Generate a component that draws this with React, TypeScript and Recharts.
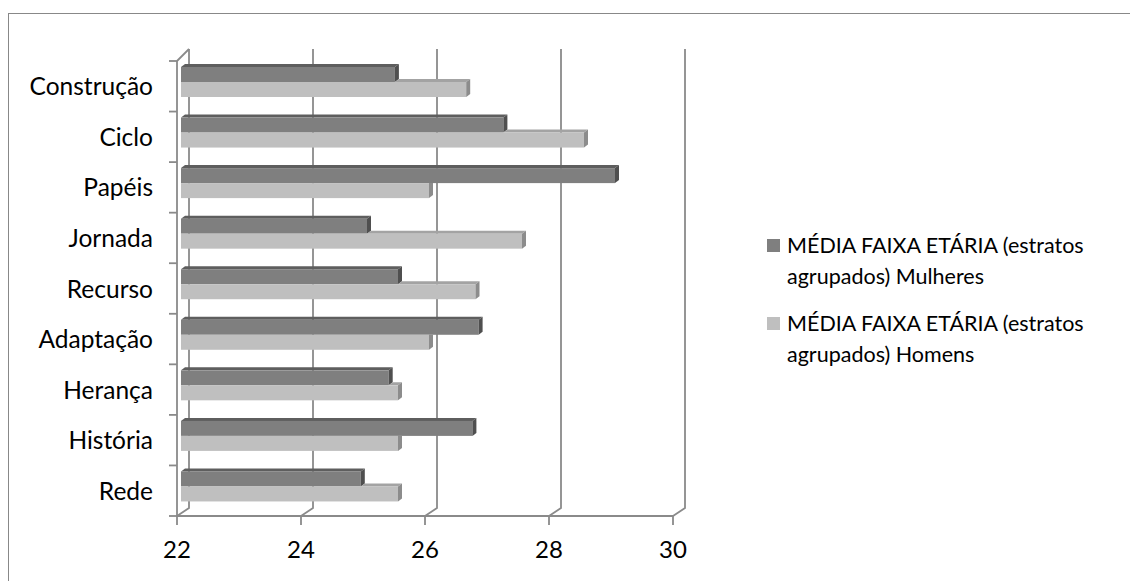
import { BarChart, Bar, XAxis, YAxis, CartesianGrid, Legend } from "recharts";

const categories = ["Construção", "Ciclo", "Papéis", "Jornada", "Recurso", "Adaptação", "Herança", "História", "Rede"];
const mulheres = [25.45, 27.2, 29.0, 25.0, 25.5, 26.8, 25.35, 26.7, 24.9];
const homens = [26.6, 28.5, 26.0, 27.5, 26.75, 26.0, 25.5, 25.5, 25.5];
const xTicks = [22, 24, 26, 28, 30];
const seriesNames = [
  "MÉDIA FAIXA ETÁRIA (estratos agrupados) Mulheres",
  "MÉDIA FAIXA ETÁRIA (estratos agrupados) Homens",
];

const data = categories.map((name, i) => ({ name, mulheres: mulheres[i], homens: homens[i] }));

const FONT = "Lato, 'Open Sans', sans-serif";
const GRID = "#8a8a8a";
const PLOT_TOP = 61;
const PLOT_BOTTOM = 516;
const BAND = (PLOT_BOTTOM - PLOT_TOP) / categories.length;
// 3d look: back wall offset, bar offset, bevel depth
const BACK_DX = 12;
const BAR_DX = 4;
const BAR_DY = -4;
const BEV_X = 4;
const BEV_Y = 3;

function DarkBar(props: any) {
  const { x, y, width, height } = props;
  if (width <= 0) return null;
  const bx = x + BAR_DX, by = y + BAR_DY, xe = bx + width;
  return (
    <g>
      <polygon points={`${bx},${by} ${bx + BEV_X},${by - BEV_Y} ${xe + BEV_X},${by - BEV_Y} ${xe},${by}`} fill="#5e5e5e" />
      <rect x={bx} y={by} width={width} height={height} fill="#7f7f7f" />
      <polygon points={`${xe},${by} ${xe + BEV_X},${by - BEV_Y} ${xe + BEV_X},${by + height - BEV_Y} ${xe},${by + height}`} fill="#4f4f4f" />
    </g>
  );
}

function LightBar(props: any) {
  const { x, y, width, height, payload } = props;
  if (width <= 0) return null;
  const bx = x + BAR_DX, by = y + BAR_DY, xe = bx + width;
  const perUnit = width / (payload.homens - 22);
  const darkEnd = bx + (payload.mulheres - 22) * perUnit;
  const showTop = xe > darkEnd;
  return (
    <g>
      {showTop && (
        <polygon points={`${darkEnd},${by} ${darkEnd + BEV_X},${by - BEV_Y} ${xe + BEV_X},${by - BEV_Y} ${xe},${by}`} fill="#a3a3a3" />
      )}
      <rect x={bx} y={by} width={width} height={height} fill="#bfbfbf" />
      <polygon
        points={showTop
          ? `${xe},${by} ${xe + BEV_X},${by - BEV_Y} ${xe + BEV_X},${by + height - BEV_Y} ${xe},${by + height}`
          : `${xe},${by} ${xe + BEV_X},${by} ${xe + BEV_X},${by + height - BEV_Y} ${xe},${by + height}`}
        fill="#8c8c8c"
      />
    </g>
  );
}

function GridLine(props: any) {
  const { x1, index } = props;
  const top = PLOT_TOP - 12;
  const bot = PLOT_BOTTOM - 8;
  return (
    <g key={`g-${index}`}>
      <polyline points={`${x1 + BACK_DX},${top} ${x1 + BACK_DX},${bot} ${x1},${PLOT_BOTTOM}`} fill="none" stroke={GRID} strokeWidth={1.8} />
      {index === 0 && (
        <line x1={x1} y1={PLOT_TOP} x2={x1 + BACK_DX} y2={top} stroke={GRID} strokeWidth={1.8} />
      )}
    </g>
  );
}

function CatTick(props: any) {
  const { x, y, payload, index } = props;
  const axisX = x + 24;
  return (
    <g>
      <line x1={axisX - 8} x2={axisX} y1={y - BAND / 2} y2={y - BAND / 2} stroke={GRID} strokeWidth={1.8} />
      {index === categories.length - 1 && (
        <line x1={axisX - 8} x2={axisX} y1={y + BAND / 2} y2={y + BAND / 2} stroke={GRID} strokeWidth={1.8} />
      )}
      <text x={x} y={y + 9} textAnchor="end" fontSize={24.5} fontFamily={FONT} fill="#000">
        {payload.value}
      </text>
    </g>
  );
}

function LegendBox(props: any) {
  const items = [...(props.payload || [])].sort(
    (a: any, b: any) => seriesNames.indexOf(a.value) - seriesNames.indexOf(b.value)
  );
  return (
    <div style={{ fontFamily: FONT, fontSize: 21.5, color: "#000" }}>
      {items.map((p: any, i: number) => (
        <div key={i} style={{ display: "flex", alignItems: "flex-start", marginBottom: 16 }}>
          <div style={{ width: 13, height: 13, background: p.color, marginTop: 9, marginRight: 7, flexShrink: 0 }} />
          <div style={{ width: 320, lineHeight: "31px" }}>{p.value}</div>
        </div>
      ))}
    </div>
  );
}

export default function App() {
  return (
    <div style={{ position: "absolute", left: 0, top: 0, width: 1130, height: 581, background: "#fff", overflow: "hidden" }}>
      <div style={{ position: "absolute", left: 8, top: 13, width: 1200, height: 700, borderLeft: "1.5px solid #888", borderTop: "1.5px solid #888" }} />
      <div style={{ position: "absolute", left: 0, top: 0 }}>
        <BarChart
          width={1130}
          height={581}
          data={data}
          layout="vertical"
          margin={{ top: PLOT_TOP, right: 457, bottom: 25, left: 0 }}
          barCategoryGap={10}
          barGap={0}
        >
          <CartesianGrid horizontal={false} vertical={GridLine} stroke={GRID} />
          <XAxis
            type="number"
            domain={[22, 30]}
            ticks={xTicks}
            allowDataOverflow
            height={40}
            axisLine={{ stroke: GRID, strokeWidth: 1.8 }}
            tickLine={{ stroke: GRID, strokeWidth: 1.8 }}
            tickSize={9}
            tickMargin={16}
            tick={{ fontSize: 24, fontFamily: FONT, fill: "#000" }}
          />
          <YAxis
            type="category"
            dataKey="name"
            width={177}
            axisLine={{ stroke: GRID, strokeWidth: 1.8 }}
            tickLine={false}
            tickSize={8}
            tickMargin={16}
            tick={<CatTick />}
            interval={0}
          />
          <Legend
            layout="vertical"
            align="center"
            verticalAlign="middle"
            wrapperStyle={{ left: 767, top: 230, width: 360 }}
            content={<LegendBox />}
          />
          <Bar dataKey="mulheres" name={seriesNames[0]} fill="#7f7f7f" shape={<DarkBar />} isAnimationActive={false} />
          <Bar dataKey="homens" name={seriesNames[1]} fill="#bfbfbf" shape={<LightBar />} isAnimationActive={false} />
        </BarChart>
      </div>
    </div>
  );
}
